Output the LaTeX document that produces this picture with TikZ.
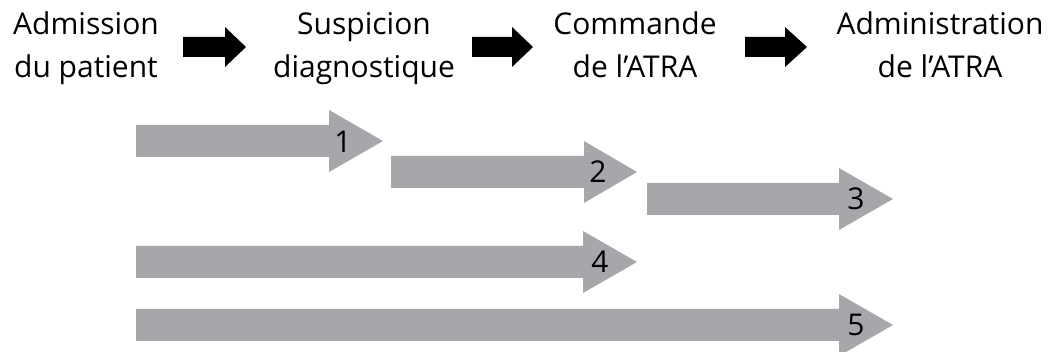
\documentclass[tikz,border=0pt]{standalone}
\usepackage{fontspec}
\setmainfont{Open Sans}
\definecolor{arrowgray}{RGB}{167,166,171}
\tikzset{
  stage/.style={align=center, anchor=base, inner sep=0pt, font=\fontsize{30}{43}\selectfont},
  num/.style={anchor=center, inner sep=0pt, font=\fontsize{30}{36}\selectfont},
  grayarrow/.style={fill=arrowgray},
  blackarrow/.style={fill=black}
}
% #1 shaft start x, #2 head start x, #3 tip x, #4 centre y, #5 shaft half height, #6 head half height
\newcommand{\flecha}[7]{%
  \fill[#7] (#1,#4-#5) -- (#2,#4-#5) -- (#2,#4-#6) -- (#3,#4) -- (#2,#4+#6) -- (#2,#4+#5) -- (#1,#4+#5) -- cycle;}
\begin{document}
\begin{tikzpicture}[x=1pt,y=-1pt]
\useasboundingbox[fill=white] (0,0) rectangle (1050,352);
% stage labels (base = baseline of the last line)
\node[stage] (adm) at (86,78) {Admission\\du patient};
\node[stage] (sus) at (364,78) {Suspicion\\diagnostique};
\node[stage] (com) at (635,78) {Commande\\de l’ATRA};
\node[stage] (admin) at (940,78) {Administration\\de l’ATRA};
% black arrows
\flecha{183}{225}{246}{47}{10}{20}{blackarrow}
\flecha{472}{512}{533}{47}{10}{20}{blackarrow}
\flecha{745}{785}{807}{47}{10}{20}{blackarrow}
% gray arrows
\flecha{136}{329}{383}{141}{16}{31}{grayarrow}
\flecha{391}{584}{637}{172}{16}{31}{grayarrow}
\flecha{647}{839}{893}{199}{16}{31}{grayarrow}
\flecha{136}{583}{637}{262}{16}{31}{grayarrow}
\flecha{136}{839}{893}{325}{16}{31}{grayarrow}
% numbers
\node[num] (n1) at (343,142) {1};
\node[num] (n2) at (598,172) {2};
\node[num] (n3) at (856,199) {3};
\node[num] (n4) at (600,262) {4};
\node[num] (n5) at (856,325) {5};
\end{tikzpicture}
\end{document}
